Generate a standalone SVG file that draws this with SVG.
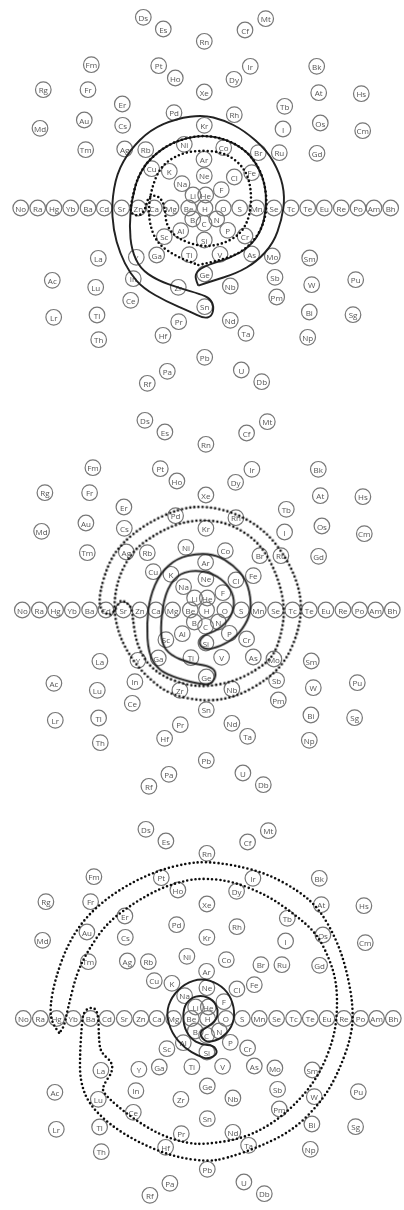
<svg xmlns="http://www.w3.org/2000/svg" width="404" height="1210" viewBox="0 0 404 1210">
<defs><filter id="soft" x="-2%" y="-2%" width="104%" height="104%"><feGaussianBlur stdDeviation="0.35"/></filter></defs>
<style>
.n{filter:url(#soft)}
.n circle{fill:none;stroke:#777;stroke-width:1.2}
.n text{font-family:"Open Sans","Liberation Sans",sans-serif;font-size:8px;fill:#555;text-anchor:middle;dominant-baseline:central}
#connectors{filter:url(#soft)}
.s,.d{fill:none}
.s{stroke:#222;stroke-width:5.8;stroke-linejoin:round}
.d{stroke:#111;stroke-width:7.8;stroke-linecap:round;stroke-dasharray:0 12.6}
</style>
<rect width="404" height="1210" fill="#fff"/>
<g id="panel-1" class="n">
<g id="a-Ds" transform="translate(143.3,17.3)"><circle r="7.8"/><text>Ds</text></g>
<g id="a-Es" transform="translate(163.3,29)"><circle r="7.8"/><text>Es</text></g>
<g id="a-Rn" transform="translate(204.3,41.3)"><circle r="7.8"/><text>Rn</text></g>
<g id="a-Cf" transform="translate(245,30)"><circle r="7.8"/><text>Cf</text></g>
<g id="a-Mt" transform="translate(265.7,18.7)"><circle r="7.8"/><text>Mt</text></g>
<g id="a-Fm" transform="translate(91.3,64.7)"><circle r="7.8"/><text>Fm</text></g>
<g id="a-Pt" transform="translate(158.7,65.7)"><circle r="7.8"/><text>Pt</text></g>
<g id="a-Ho" transform="translate(175.3,78)"><circle r="7.8"/><text>Ho</text></g>
<g id="a-Dy" transform="translate(234,79.3)"><circle r="7.8"/><text>Dy</text></g>
<g id="a-Ir" transform="translate(250.3,66.3)"><circle r="7.8"/><text>Ir</text></g>
<g id="a-Bk" transform="translate(316.7,66.3)"><circle r="7.8"/><text>Bk</text></g>
<g id="a-Rg" transform="translate(43.3,89.7)"><circle r="7.8"/><text>Rg</text></g>
<g id="a-Fr" transform="translate(88,89.7)"><circle r="7.8"/><text>Fr</text></g>
<g id="a-Xe" transform="translate(204.3,92)"><circle r="7.8"/><text>Xe</text></g>
<g id="a-At" transform="translate(318.7,92.7)"><circle r="7.8"/><text>At</text></g>
<g id="a-Hs" transform="translate(361.3,93.7)"><circle r="7.8"/><text>Hs</text></g>
<g id="a-Er" transform="translate(122.3,104)"><circle r="7.8"/><text>Er</text></g>
<g id="a-Pd" transform="translate(174,112.7)"><circle r="7.8"/><text>Pd</text></g>
<g id="a-Rh" transform="translate(234.3,114.7)"><circle r="7.8"/><text>Rh</text></g>
<g id="a-Tb" transform="translate(284.7,106.3)"><circle r="7.8"/><text>Tb</text></g>
<g id="a-Au" transform="translate(84.3,120)"><circle r="7.8"/><text>Au</text></g>
<g id="a-Os" transform="translate(320.3,123)"><circle r="7.8"/><text>Os</text></g>
<g id="a-Md" transform="translate(40,128.3)"><circle r="7.8"/><text>Md</text></g>
<g id="a-Cs" transform="translate(122.7,125.3)"><circle r="7.8"/><text>Cs</text></g>
<g id="a-Kr" transform="translate(204.3,125.3)"><circle r="7.8"/><text>Kr</text></g>
<g id="a-I" transform="translate(283,129)"><circle r="7.8"/><text>I</text></g>
<g id="a-Cm" transform="translate(362.7,130.7)"><circle r="7.8"/><text>Cm</text></g>
<g id="a-Tm" transform="translate(85.7,149.7)"><circle r="7.8"/><text>Tm</text></g>
<g id="a-Ag" transform="translate(124.7,149)"><circle r="7.8"/><text>Ag</text></g>
<g id="a-Rb" transform="translate(145.7,149.7)"><circle r="7.8"/><text>Rb</text></g>
<g id="a-Ni" transform="translate(184.3,144.3)"><circle r="7.8"/><text>Ni</text></g>
<g id="a-Co" transform="translate(223.7,147.7)"><circle r="7.8"/><text>Co</text></g>
<g id="a-Br" transform="translate(258.3,152.7)"><circle r="7.8"/><text>Br</text></g>
<g id="a-Ru" transform="translate(279.3,152.7)"><circle r="7.8"/><text>Ru</text></g>
<g id="a-Gd" transform="translate(317,153.3)"><circle r="7.8"/><text>Gd</text></g>
<g id="a-Ar" transform="translate(204,159.3)"><circle r="7.8"/><text>Ar</text></g>
<g id="a-Cu" transform="translate(151.7,168.7)"><circle r="7.8"/><text>Cu</text></g>
<g id="a-K" transform="translate(169.3,171.3)"><circle r="7.8"/><text>K</text></g>
<g id="a-Ne" transform="translate(204.3,175.7)"><circle r="7.8"/><text>Ne</text></g>
<g id="a-Cl" transform="translate(234.3,177)"><circle r="7.8"/><text>Cl</text></g>
<g id="a-Fe" transform="translate(251.7,172.7)"><circle r="7.8"/><text>Fe</text></g>
<g id="a-Na" transform="translate(182,183.7)"><circle r="7.8"/><text>Na</text></g>
<g id="a-F" transform="translate(221.3,189.7)"><circle r="7.8"/><text>F</text></g>
<g id="a-Li" transform="translate(193,195)"><circle r="7.8"/><text>Li</text></g>
<g id="a-He" transform="translate(205.7,195)"><circle r="7.8"/><text>He</text></g>
<g id="a-No" transform="translate(20.7,208)"><circle r="7.8"/><text>No</text></g>
<g id="a-Ra" transform="translate(37.7,208)"><circle r="7.8"/><text>Ra</text></g>
<g id="a-Hg" transform="translate(54,208)"><circle r="7.8"/><text>Hg</text></g>
<g id="a-Yb" transform="translate(70.7,208)"><circle r="7.8"/><text>Yb</text></g>
<g id="a-Ba" transform="translate(88,208)"><circle r="7.8"/><text>Ba</text></g>
<g id="a-Cd" transform="translate(104.3,208)"><circle r="7.8"/><text>Cd</text></g>
<g id="a-Sr" transform="translate(121.7,208)"><circle r="7.8"/><text>Sr</text></g>
<g id="a-Zn" transform="translate(138.3,208)"><circle r="7.8"/><text>Zn</text></g>
<g id="a-Ca" transform="translate(154.3,208)"><circle r="7.8"/><text>Ca</text></g>
<g id="a-Mg" transform="translate(171,208)"><circle r="7.8"/><text>Mg</text></g>
<g id="a-Be" transform="translate(188.7,208)"><circle r="7.8"/><text>Be</text></g>
<g id="a-H" transform="translate(205,208)"><circle r="7.8"/><text>H</text></g>
<g id="a-O" transform="translate(223.3,208)"><circle r="7.8"/><text>O</text></g>
<g id="a-S" transform="translate(239.7,208)"><circle r="7.8"/><text>S</text></g>
<g id="a-Mn" transform="translate(256.7,208)"><circle r="7.8"/><text>Mn</text></g>
<g id="a-Se" transform="translate(274,208)"><circle r="7.8"/><text>Se</text></g>
<g id="a-Tc" transform="translate(291,208)"><circle r="7.8"/><text>Tc</text></g>
<g id="a-Te" transform="translate(307.7,208)"><circle r="7.8"/><text>Te</text></g>
<g id="a-Eu" transform="translate(324.3,208)"><circle r="7.8"/><text>Eu</text></g>
<g id="a-Re" transform="translate(341.3,208)"><circle r="7.8"/><text>Re</text></g>
<g id="a-Po" transform="translate(358,208)"><circle r="7.8"/><text>Po</text></g>
<g id="a-Am" transform="translate(374,208)"><circle r="7.8"/><text>Am</text></g>
<g id="a-Bh" transform="translate(390.7,208)"><circle r="7.8"/><text>Bh</text></g>
<g id="a-B" transform="translate(192.7,219)"><circle r="7.8"/><text>B</text></g>
<g id="a-C" transform="translate(204,223.3)"><circle r="7.8"/><text>C</text></g>
<g id="a-N" transform="translate(216.7,219)"><circle r="7.8"/><text>N</text></g>
<g id="a-Al" transform="translate(180.7,230.7)"><circle r="7.8"/><text>Al</text></g>
<g id="a-P" transform="translate(227.7,230.3)"><circle r="7.8"/><text>P</text></g>
<g id="a-Sc" transform="translate(164.3,236.7)"><circle r="7.8"/><text>Sc</text></g>
<g id="a-Si" transform="translate(204.3,240)"><circle r="7.8"/><text>Si</text></g>
<g id="a-Cr" transform="translate(245,236)"><circle r="7.8"/><text>Cr</text></g>
<g id="a-La" transform="translate(98.3,258.3)"><circle r="7.8"/><text>La</text></g>
<g id="a-Y" transform="translate(136.3,257.3)"><circle r="7.8"/><text>Y</text></g>
<g id="a-Ga" transform="translate(156.7,255)"><circle r="7.8"/><text>Ga</text></g>
<g id="a-Ti" transform="translate(189.3,254.7)"><circle r="7.8"/><text>Ti</text></g>
<g id="a-V" transform="translate(220,254.3)"><circle r="7.8"/><text>V</text></g>
<g id="a-As" transform="translate(251.7,254)"><circle r="7.8"/><text>As</text></g>
<g id="a-Mo" transform="translate(272.3,256)"><circle r="7.8"/><text>Mo</text></g>
<g id="a-Sm" transform="translate(309.7,258)"><circle r="7.8"/><text>Sm</text></g>
<g id="a-Ac" transform="translate(52.3,280.3)"><circle r="7.8"/><text>Ac</text></g>
<g id="a-In" transform="translate(133.3,278.7)"><circle r="7.8"/><text>In</text></g>
<g id="a-Ge" transform="translate(204.7,274)"><circle r="7.8"/><text>Ge</text></g>
<g id="a-Zr" transform="translate(178.3,287.3)"><circle r="7.8"/><text>Zr</text></g>
<g id="a-Nb" transform="translate(230.3,286)"><circle r="7.8"/><text>Nb</text></g>
<g id="a-Sb" transform="translate(275,277.3)"><circle r="7.8"/><text>Sb</text></g>
<g id="a-W" transform="translate(311.7,284.7)"><circle r="7.8"/><text>W</text></g>
<g id="a-Pu" transform="translate(355.7,279.7)"><circle r="7.8"/><text>Pu</text></g>
<g id="a-Lu" transform="translate(95.7,287.3)"><circle r="7.8"/><text>Lu</text></g>
<g id="a-Ce" transform="translate(130.7,300.3)"><circle r="7.8"/><text>Ce</text></g>
<g id="a-Pm" transform="translate(276.7,297)"><circle r="7.8"/><text>Pm</text></g>
<g id="a-Sn" transform="translate(204.7,306.7)"><circle r="7.8"/><text>Sn</text></g>
<g id="a-Lr" transform="translate(53.7,317.3)"><circle r="7.8"/><text>Lr</text></g>
<g id="a-Tl" transform="translate(97,315)"><circle r="7.8"/><text>Tl</text></g>
<g id="a-Pr" transform="translate(178.7,321.7)"><circle r="7.8"/><text>Pr</text></g>
<g id="a-Nd" transform="translate(230.3,320.3)"><circle r="7.8"/><text>Nd</text></g>
<g id="a-Bi" transform="translate(309.3,312)"><circle r="7.8"/><text>Bi</text></g>
<g id="a-Sg" transform="translate(353,314.7)"><circle r="7.8"/><text>Sg</text></g>
<g id="a-Ta" transform="translate(246,333.3)"><circle r="7.8"/><text>Ta</text></g>
<g id="a-Hf" transform="translate(163,335.3)"><circle r="7.8"/><text>Hf</text></g>
<g id="a-Th" transform="translate(98.7,339.7)"><circle r="7.8"/><text>Th</text></g>
<g id="a-Np" transform="translate(307.7,337.3)"><circle r="7.8"/><text>Np</text></g>
<g id="a-Pb" transform="translate(204.7,357.3)"><circle r="7.8"/><text>Pb</text></g>
<g id="a-Pa" transform="translate(167.3,371.3)"><circle r="7.8"/><text>Pa</text></g>
<g id="a-U" transform="translate(241.3,370)"><circle r="7.8"/><text>U</text></g>
<g id="a-Rf" transform="translate(147.3,383.3)"><circle r="7.8"/><text>Rf</text></g>
<g id="a-Db" transform="translate(261.7,381.7)"><circle r="7.8"/><text>Db</text></g>
</g>
<g id="panel-2" class="n" transform="translate(1.6,403)">
<g id="b-Ds" transform="translate(143.3,17.3)"><circle r="7.8"/><text>Ds</text></g>
<g id="b-Es" transform="translate(163.3,29)"><circle r="7.8"/><text>Es</text></g>
<g id="b-Rn" transform="translate(204.3,41.3)"><circle r="7.8"/><text>Rn</text></g>
<g id="b-Cf" transform="translate(245,30)"><circle r="7.8"/><text>Cf</text></g>
<g id="b-Mt" transform="translate(265.7,18.7)"><circle r="7.8"/><text>Mt</text></g>
<g id="b-Fm" transform="translate(91.3,64.7)"><circle r="7.8"/><text>Fm</text></g>
<g id="b-Pt" transform="translate(158.7,65.7)"><circle r="7.8"/><text>Pt</text></g>
<g id="b-Ho" transform="translate(175.3,78)"><circle r="7.8"/><text>Ho</text></g>
<g id="b-Dy" transform="translate(234,79.3)"><circle r="7.8"/><text>Dy</text></g>
<g id="b-Ir" transform="translate(250.3,66.3)"><circle r="7.8"/><text>Ir</text></g>
<g id="b-Bk" transform="translate(316.7,66.3)"><circle r="7.8"/><text>Bk</text></g>
<g id="b-Rg" transform="translate(43.3,89.7)"><circle r="7.8"/><text>Rg</text></g>
<g id="b-Fr" transform="translate(88,89.7)"><circle r="7.8"/><text>Fr</text></g>
<g id="b-Xe" transform="translate(204.3,92)"><circle r="7.8"/><text>Xe</text></g>
<g id="b-At" transform="translate(318.7,92.7)"><circle r="7.8"/><text>At</text></g>
<g id="b-Hs" transform="translate(361.3,93.7)"><circle r="7.8"/><text>Hs</text></g>
<g id="b-Er" transform="translate(122.3,104)"><circle r="7.8"/><text>Er</text></g>
<g id="b-Pd" transform="translate(174,112.7)"><circle r="7.8"/><text>Pd</text></g>
<g id="b-Rh" transform="translate(234.3,114.7)"><circle r="7.8"/><text>Rh</text></g>
<g id="b-Tb" transform="translate(284.7,106.3)"><circle r="7.8"/><text>Tb</text></g>
<g id="b-Au" transform="translate(84.3,120)"><circle r="7.8"/><text>Au</text></g>
<g id="b-Os" transform="translate(320.3,123)"><circle r="7.8"/><text>Os</text></g>
<g id="b-Md" transform="translate(40,128.3)"><circle r="7.8"/><text>Md</text></g>
<g id="b-Cs" transform="translate(122.7,125.3)"><circle r="7.8"/><text>Cs</text></g>
<g id="b-Kr" transform="translate(204.3,125.3)"><circle r="7.8"/><text>Kr</text></g>
<g id="b-I" transform="translate(283,129)"><circle r="7.8"/><text>I</text></g>
<g id="b-Cm" transform="translate(362.7,130.7)"><circle r="7.8"/><text>Cm</text></g>
<g id="b-Tm" transform="translate(85.7,149.7)"><circle r="7.8"/><text>Tm</text></g>
<g id="b-Ag" transform="translate(124.7,149)"><circle r="7.8"/><text>Ag</text></g>
<g id="b-Rb" transform="translate(145.7,149.7)"><circle r="7.8"/><text>Rb</text></g>
<g id="b-Ni" transform="translate(184.3,144.3)"><circle r="7.8"/><text>Ni</text></g>
<g id="b-Co" transform="translate(223.7,147.7)"><circle r="7.8"/><text>Co</text></g>
<g id="b-Br" transform="translate(258.3,152.7)"><circle r="7.8"/><text>Br</text></g>
<g id="b-Ru" transform="translate(279.3,152.7)"><circle r="7.8"/><text>Ru</text></g>
<g id="b-Gd" transform="translate(317,153.3)"><circle r="7.8"/><text>Gd</text></g>
<g id="b-Ar" transform="translate(204,159.3)"><circle r="7.8"/><text>Ar</text></g>
<g id="b-Cu" transform="translate(151.7,168.7)"><circle r="7.8"/><text>Cu</text></g>
<g id="b-K" transform="translate(169.3,171.3)"><circle r="7.8"/><text>K</text></g>
<g id="b-Ne" transform="translate(204.3,175.7)"><circle r="7.8"/><text>Ne</text></g>
<g id="b-Cl" transform="translate(234.3,177)"><circle r="7.8"/><text>Cl</text></g>
<g id="b-Fe" transform="translate(251.7,172.7)"><circle r="7.8"/><text>Fe</text></g>
<g id="b-Na" transform="translate(182,183.7)"><circle r="7.8"/><text>Na</text></g>
<g id="b-F" transform="translate(221.3,189.7)"><circle r="7.8"/><text>F</text></g>
<g id="b-Li" transform="translate(193,195)"><circle r="7.8"/><text>Li</text></g>
<g id="b-He" transform="translate(205.7,195)"><circle r="7.8"/><text>He</text></g>
<g id="b-No" transform="translate(20.7,207)"><circle r="7.8"/><text>No</text></g>
<g id="b-Ra" transform="translate(37.7,207)"><circle r="7.8"/><text>Ra</text></g>
<g id="b-Hg" transform="translate(54,207)"><circle r="7.8"/><text>Hg</text></g>
<g id="b-Yb" transform="translate(70.7,207)"><circle r="7.8"/><text>Yb</text></g>
<g id="b-Ba" transform="translate(88,207)"><circle r="7.8"/><text>Ba</text></g>
<g id="b-Cd" transform="translate(104.3,207)"><circle r="7.8"/><text>Cd</text></g>
<g id="b-Sr" transform="translate(121.7,207)"><circle r="7.8"/><text>Sr</text></g>
<g id="b-Zn" transform="translate(138.3,207)"><circle r="7.8"/><text>Zn</text></g>
<g id="b-Ca" transform="translate(154.3,207)"><circle r="7.8"/><text>Ca</text></g>
<g id="b-Mg" transform="translate(171,207)"><circle r="7.8"/><text>Mg</text></g>
<g id="b-Be" transform="translate(188.7,207)"><circle r="7.8"/><text>Be</text></g>
<g id="b-H" transform="translate(205,207)"><circle r="7.8"/><text>H</text></g>
<g id="b-O" transform="translate(223.3,207)"><circle r="7.8"/><text>O</text></g>
<g id="b-S" transform="translate(239.7,207)"><circle r="7.8"/><text>S</text></g>
<g id="b-Mn" transform="translate(256.7,207)"><circle r="7.8"/><text>Mn</text></g>
<g id="b-Se" transform="translate(274,207)"><circle r="7.8"/><text>Se</text></g>
<g id="b-Tc" transform="translate(291,207)"><circle r="7.8"/><text>Tc</text></g>
<g id="b-Te" transform="translate(307.7,207)"><circle r="7.8"/><text>Te</text></g>
<g id="b-Eu" transform="translate(324.3,207)"><circle r="7.8"/><text>Eu</text></g>
<g id="b-Re" transform="translate(341.3,207)"><circle r="7.8"/><text>Re</text></g>
<g id="b-Po" transform="translate(358,207)"><circle r="7.8"/><text>Po</text></g>
<g id="b-Am" transform="translate(374,207)"><circle r="7.8"/><text>Am</text></g>
<g id="b-Bh" transform="translate(390.7,207)"><circle r="7.8"/><text>Bh</text></g>
<g id="b-B" transform="translate(192.7,219)"><circle r="7.8"/><text>B</text></g>
<g id="b-C" transform="translate(204,223.3)"><circle r="7.8"/><text>C</text></g>
<g id="b-N" transform="translate(216.7,219)"><circle r="7.8"/><text>N</text></g>
<g id="b-Al" transform="translate(180.7,230.7)"><circle r="7.8"/><text>Al</text></g>
<g id="b-P" transform="translate(227.7,230.3)"><circle r="7.8"/><text>P</text></g>
<g id="b-Sc" transform="translate(164.3,236.7)"><circle r="7.8"/><text>Sc</text></g>
<g id="b-Si" transform="translate(204.3,240)"><circle r="7.8"/><text>Si</text></g>
<g id="b-Cr" transform="translate(245,236)"><circle r="7.8"/><text>Cr</text></g>
<g id="b-La" transform="translate(98.3,258.3)"><circle r="7.8"/><text>La</text></g>
<g id="b-Y" transform="translate(136.3,257.3)"><circle r="7.8"/><text>Y</text></g>
<g id="b-Ga" transform="translate(156.7,255)"><circle r="7.8"/><text>Ga</text></g>
<g id="b-Ti" transform="translate(189.3,254.7)"><circle r="7.8"/><text>Ti</text></g>
<g id="b-V" transform="translate(220,254.3)"><circle r="7.8"/><text>V</text></g>
<g id="b-As" transform="translate(251.7,254)"><circle r="7.8"/><text>As</text></g>
<g id="b-Mo" transform="translate(272.3,256)"><circle r="7.8"/><text>Mo</text></g>
<g id="b-Sm" transform="translate(309.7,258)"><circle r="7.8"/><text>Sm</text></g>
<g id="b-Ac" transform="translate(52.3,280.3)"><circle r="7.8"/><text>Ac</text></g>
<g id="b-In" transform="translate(133.3,278.7)"><circle r="7.8"/><text>In</text></g>
<g id="b-Ge" transform="translate(204.7,274)"><circle r="7.8"/><text>Ge</text></g>
<g id="b-Zr" transform="translate(178.3,287.3)"><circle r="7.8"/><text>Zr</text></g>
<g id="b-Nb" transform="translate(230.3,286)"><circle r="7.8"/><text>Nb</text></g>
<g id="b-Sb" transform="translate(275,277.3)"><circle r="7.8"/><text>Sb</text></g>
<g id="b-W" transform="translate(311.7,284.7)"><circle r="7.8"/><text>W</text></g>
<g id="b-Pu" transform="translate(355.7,279.7)"><circle r="7.8"/><text>Pu</text></g>
<g id="b-Lu" transform="translate(95.7,287.3)"><circle r="7.8"/><text>Lu</text></g>
<g id="b-Ce" transform="translate(130.7,300.3)"><circle r="7.8"/><text>Ce</text></g>
<g id="b-Pm" transform="translate(276.7,297)"><circle r="7.8"/><text>Pm</text></g>
<g id="b-Sn" transform="translate(204.7,306.7)"><circle r="7.8"/><text>Sn</text></g>
<g id="b-Lr" transform="translate(53.7,317.3)"><circle r="7.8"/><text>Lr</text></g>
<g id="b-Tl" transform="translate(97,315)"><circle r="7.8"/><text>Tl</text></g>
<g id="b-Pr" transform="translate(178.7,321.7)"><circle r="7.8"/><text>Pr</text></g>
<g id="b-Nd" transform="translate(230.3,320.3)"><circle r="7.8"/><text>Nd</text></g>
<g id="b-Bi" transform="translate(309.3,312)"><circle r="7.8"/><text>Bi</text></g>
<g id="b-Sg" transform="translate(353,314.7)"><circle r="7.8"/><text>Sg</text></g>
<g id="b-Ta" transform="translate(246,333.3)"><circle r="7.8"/><text>Ta</text></g>
<g id="b-Hf" transform="translate(163,335.3)"><circle r="7.8"/><text>Hf</text></g>
<g id="b-Th" transform="translate(98.7,339.7)"><circle r="7.8"/><text>Th</text></g>
<g id="b-Np" transform="translate(307.7,337.3)"><circle r="7.8"/><text>Np</text></g>
<g id="b-Pb" transform="translate(204.7,357.3)"><circle r="7.8"/><text>Pb</text></g>
<g id="b-Pa" transform="translate(167.3,371.3)"><circle r="7.8"/><text>Pa</text></g>
<g id="b-U" transform="translate(241.3,370)"><circle r="7.8"/><text>U</text></g>
<g id="b-Rf" transform="translate(147.3,383.3)"><circle r="7.8"/><text>Rf</text></g>
<g id="b-Db" transform="translate(261.7,381.7)"><circle r="7.8"/><text>Db</text></g>
</g>
<g id="panel-3" class="n" transform="translate(2.6,812)">
<g id="c-Ds" transform="translate(143.3,17.3)"><circle r="7.8"/><text>Ds</text></g>
<g id="c-Es" transform="translate(163.3,29)"><circle r="7.8"/><text>Es</text></g>
<g id="c-Rn" transform="translate(204.3,41.3)"><circle r="7.8"/><text>Rn</text></g>
<g id="c-Cf" transform="translate(245,30)"><circle r="7.8"/><text>Cf</text></g>
<g id="c-Mt" transform="translate(265.7,18.7)"><circle r="7.8"/><text>Mt</text></g>
<g id="c-Fm" transform="translate(91.3,64.7)"><circle r="7.8"/><text>Fm</text></g>
<g id="c-Pt" transform="translate(158.7,65.7)"><circle r="7.8"/><text>Pt</text></g>
<g id="c-Ho" transform="translate(175.3,78)"><circle r="7.8"/><text>Ho</text></g>
<g id="c-Dy" transform="translate(234,79.3)"><circle r="7.8"/><text>Dy</text></g>
<g id="c-Ir" transform="translate(250.3,66.3)"><circle r="7.8"/><text>Ir</text></g>
<g id="c-Bk" transform="translate(316.7,66.3)"><circle r="7.8"/><text>Bk</text></g>
<g id="c-Rg" transform="translate(43.3,89.7)"><circle r="7.8"/><text>Rg</text></g>
<g id="c-Fr" transform="translate(88,89.7)"><circle r="7.8"/><text>Fr</text></g>
<g id="c-Xe" transform="translate(204.3,92)"><circle r="7.8"/><text>Xe</text></g>
<g id="c-At" transform="translate(318.7,92.7)"><circle r="7.8"/><text>At</text></g>
<g id="c-Hs" transform="translate(361.3,93.7)"><circle r="7.8"/><text>Hs</text></g>
<g id="c-Er" transform="translate(122.3,104)"><circle r="7.8"/><text>Er</text></g>
<g id="c-Pd" transform="translate(174,112.7)"><circle r="7.8"/><text>Pd</text></g>
<g id="c-Rh" transform="translate(234.3,114.7)"><circle r="7.8"/><text>Rh</text></g>
<g id="c-Tb" transform="translate(284.7,106.3)"><circle r="7.8"/><text>Tb</text></g>
<g id="c-Au" transform="translate(84.3,120)"><circle r="7.8"/><text>Au</text></g>
<g id="c-Os" transform="translate(320.3,123)"><circle r="7.8"/><text>Os</text></g>
<g id="c-Md" transform="translate(40,128.3)"><circle r="7.8"/><text>Md</text></g>
<g id="c-Cs" transform="translate(122.7,125.3)"><circle r="7.8"/><text>Cs</text></g>
<g id="c-Kr" transform="translate(204.3,125.3)"><circle r="7.8"/><text>Kr</text></g>
<g id="c-I" transform="translate(283,129)"><circle r="7.8"/><text>I</text></g>
<g id="c-Cm" transform="translate(362.7,130.7)"><circle r="7.8"/><text>Cm</text></g>
<g id="c-Tm" transform="translate(85.7,149.7)"><circle r="7.8"/><text>Tm</text></g>
<g id="c-Ag" transform="translate(124.7,149)"><circle r="7.8"/><text>Ag</text></g>
<g id="c-Rb" transform="translate(145.7,149.7)"><circle r="7.8"/><text>Rb</text></g>
<g id="c-Ni" transform="translate(184.3,144.3)"><circle r="7.8"/><text>Ni</text></g>
<g id="c-Co" transform="translate(223.7,147.7)"><circle r="7.8"/><text>Co</text></g>
<g id="c-Br" transform="translate(258.3,152.7)"><circle r="7.8"/><text>Br</text></g>
<g id="c-Ru" transform="translate(279.3,152.7)"><circle r="7.8"/><text>Ru</text></g>
<g id="c-Gd" transform="translate(317,153.3)"><circle r="7.8"/><text>Gd</text></g>
<g id="c-Ar" transform="translate(204,159.3)"><circle r="7.8"/><text>Ar</text></g>
<g id="c-Cu" transform="translate(151.7,168.7)"><circle r="7.8"/><text>Cu</text></g>
<g id="c-K" transform="translate(169.3,171.3)"><circle r="7.8"/><text>K</text></g>
<g id="c-Ne" transform="translate(204.3,175.7)"><circle r="7.8"/><text>Ne</text></g>
<g id="c-Cl" transform="translate(234.3,177)"><circle r="7.8"/><text>Cl</text></g>
<g id="c-Fe" transform="translate(251.7,172.7)"><circle r="7.8"/><text>Fe</text></g>
<g id="c-Na" transform="translate(182,183.7)"><circle r="7.8"/><text>Na</text></g>
<g id="c-F" transform="translate(221.3,189.7)"><circle r="7.8"/><text>F</text></g>
<g id="c-Li" transform="translate(193,195)"><circle r="7.8"/><text>Li</text></g>
<g id="c-He" transform="translate(205.7,195)"><circle r="7.8"/><text>He</text></g>
<g id="c-No" transform="translate(20.7,206.5)"><circle r="7.8"/><text>No</text></g>
<g id="c-Ra" transform="translate(37.7,206.5)"><circle r="7.8"/><text>Ra</text></g>
<g id="c-Hg" transform="translate(54,206.5)"><circle r="7.8"/><text>Hg</text></g>
<g id="c-Yb" transform="translate(70.7,206.5)"><circle r="7.8"/><text>Yb</text></g>
<g id="c-Ba" transform="translate(88,206.5)"><circle r="7.8"/><text>Ba</text></g>
<g id="c-Cd" transform="translate(104.3,206.5)"><circle r="7.8"/><text>Cd</text></g>
<g id="c-Sr" transform="translate(121.7,206.5)"><circle r="7.8"/><text>Sr</text></g>
<g id="c-Zn" transform="translate(138.3,206.5)"><circle r="7.8"/><text>Zn</text></g>
<g id="c-Ca" transform="translate(154.3,206.5)"><circle r="7.8"/><text>Ca</text></g>
<g id="c-Mg" transform="translate(171,206.5)"><circle r="7.8"/><text>Mg</text></g>
<g id="c-Be" transform="translate(188.7,206.5)"><circle r="7.8"/><text>Be</text></g>
<g id="c-H" transform="translate(205,206.5)"><circle r="7.8"/><text>H</text></g>
<g id="c-O" transform="translate(223.3,206.5)"><circle r="7.8"/><text>O</text></g>
<g id="c-S" transform="translate(239.7,206.5)"><circle r="7.8"/><text>S</text></g>
<g id="c-Mn" transform="translate(256.7,206.5)"><circle r="7.8"/><text>Mn</text></g>
<g id="c-Se" transform="translate(274,206.5)"><circle r="7.8"/><text>Se</text></g>
<g id="c-Tc" transform="translate(291,206.5)"><circle r="7.8"/><text>Tc</text></g>
<g id="c-Te" transform="translate(307.7,206.5)"><circle r="7.8"/><text>Te</text></g>
<g id="c-Eu" transform="translate(324.3,206.5)"><circle r="7.8"/><text>Eu</text></g>
<g id="c-Re" transform="translate(341.3,206.5)"><circle r="7.8"/><text>Re</text></g>
<g id="c-Po" transform="translate(358,206.5)"><circle r="7.8"/><text>Po</text></g>
<g id="c-Am" transform="translate(374,206.5)"><circle r="7.8"/><text>Am</text></g>
<g id="c-Bh" transform="translate(390.7,206.5)"><circle r="7.8"/><text>Bh</text></g>
<g id="c-B" transform="translate(192.7,219)"><circle r="7.8"/><text>B</text></g>
<g id="c-C" transform="translate(204,223.3)"><circle r="7.8"/><text>C</text></g>
<g id="c-N" transform="translate(216.7,219)"><circle r="7.8"/><text>N</text></g>
<g id="c-Al" transform="translate(180.7,230.7)"><circle r="7.8"/><text>Al</text></g>
<g id="c-P" transform="translate(227.7,230.3)"><circle r="7.8"/><text>P</text></g>
<g id="c-Sc" transform="translate(164.3,236.7)"><circle r="7.8"/><text>Sc</text></g>
<g id="c-Si" transform="translate(204.3,240)"><circle r="7.8"/><text>Si</text></g>
<g id="c-Cr" transform="translate(245,236)"><circle r="7.8"/><text>Cr</text></g>
<g id="c-La" transform="translate(98.3,258.3)"><circle r="7.8"/><text>La</text></g>
<g id="c-Y" transform="translate(136.3,257.3)"><circle r="7.8"/><text>Y</text></g>
<g id="c-Ga" transform="translate(156.7,255)"><circle r="7.8"/><text>Ga</text></g>
<g id="c-Ti" transform="translate(189.3,254.7)"><circle r="7.8"/><text>Ti</text></g>
<g id="c-V" transform="translate(220,254.3)"><circle r="7.8"/><text>V</text></g>
<g id="c-As" transform="translate(251.7,254)"><circle r="7.8"/><text>As</text></g>
<g id="c-Mo" transform="translate(272.3,256)"><circle r="7.8"/><text>Mo</text></g>
<g id="c-Sm" transform="translate(309.7,258)"><circle r="7.8"/><text>Sm</text></g>
<g id="c-Ac" transform="translate(52.3,280.3)"><circle r="7.8"/><text>Ac</text></g>
<g id="c-In" transform="translate(133.3,278.7)"><circle r="7.8"/><text>In</text></g>
<g id="c-Ge" transform="translate(204.7,274)"><circle r="7.8"/><text>Ge</text></g>
<g id="c-Zr" transform="translate(178.3,287.3)"><circle r="7.8"/><text>Zr</text></g>
<g id="c-Nb" transform="translate(230.3,286)"><circle r="7.8"/><text>Nb</text></g>
<g id="c-Sb" transform="translate(275,277.3)"><circle r="7.8"/><text>Sb</text></g>
<g id="c-W" transform="translate(311.7,284.7)"><circle r="7.8"/><text>W</text></g>
<g id="c-Pu" transform="translate(355.7,279.7)"><circle r="7.8"/><text>Pu</text></g>
<g id="c-Lu" transform="translate(95.7,287.3)"><circle r="7.8"/><text>Lu</text></g>
<g id="c-Ce" transform="translate(130.7,300.3)"><circle r="7.8"/><text>Ce</text></g>
<g id="c-Pm" transform="translate(276.7,297)"><circle r="7.8"/><text>Pm</text></g>
<g id="c-Sn" transform="translate(204.7,306.7)"><circle r="7.8"/><text>Sn</text></g>
<g id="c-Lr" transform="translate(53.7,317.3)"><circle r="7.8"/><text>Lr</text></g>
<g id="c-Tl" transform="translate(97,315)"><circle r="7.8"/><text>Tl</text></g>
<g id="c-Pr" transform="translate(178.7,321.7)"><circle r="7.8"/><text>Pr</text></g>
<g id="c-Nd" transform="translate(230.3,320.3)"><circle r="7.8"/><text>Nd</text></g>
<g id="c-Bi" transform="translate(309.3,312)"><circle r="7.8"/><text>Bi</text></g>
<g id="c-Sg" transform="translate(353,314.7)"><circle r="7.8"/><text>Sg</text></g>
<g id="c-Ta" transform="translate(246,333.3)"><circle r="7.8"/><text>Ta</text></g>
<g id="c-Hf" transform="translate(163,335.3)"><circle r="7.8"/><text>Hf</text></g>
<g id="c-Th" transform="translate(98.7,339.7)"><circle r="7.8"/><text>Th</text></g>
<g id="c-Np" transform="translate(307.7,337.3)"><circle r="7.8"/><text>Np</text></g>
<g id="c-Pb" transform="translate(204.7,357.3)"><circle r="7.8"/><text>Pb</text></g>
<g id="c-Pa" transform="translate(167.3,371.3)"><circle r="7.8"/><text>Pa</text></g>
<g id="c-U" transform="translate(241.3,370)"><circle r="7.8"/><text>U</text></g>
<g id="c-Rf" transform="translate(147.3,383.3)"><circle r="7.8"/><text>Rf</text></g>
<g id="c-Db" transform="translate(261.7,381.7)"><circle r="7.8"/><text>Db</text></g>
</g>
<g id="connectors">
<g transform="translate(110,110) scale(.3333)">
<path class="s" d="M265 527Q300 515 340 502.5Q380 490 410 472.5Q440 455 465 427.5Q490 400 502.5 365Q515 330 520 295Q525 260 517.5 225Q510 190 490 155Q470 120 435 90Q400 60 370 45Q340 30 310 22.5Q280 15 240 20Q200 25 160 42.5Q120 60 90 90Q60 120 40 155Q20 190 12.5 235Q5 280 7.5 320Q10 360 20 395Q30 430 45 460Q60 490 80 512.5Q100 535 135 555Q170 575 205 590Q240 605 260 615Q280 625 292.5 622.5Q305 620 308.5 605Q312 590 306 577.5Q300 565 285 558.5Q270 552 240 543.5Q210 535 175 522.5Q140 510 115 492.5Q90 475 77.5 447.5Q65 420 61.5 385Q58 350 61.5 310Q65 270 75 232.5Q85 195 105 167.5Q125 140 157.5 117.5Q190 95 230 85Q270 75 305 80Q340 85 370 100Q400 115 420 137.5Q440 160 452.5 190Q465 220 467.5 255Q470 290 462.5 325Q455 360 437.5 385Q420 410 390 427.5Q360 445 325 455Q290 465 275 475Q260 485 257.5 495Q255 505 265 527"/>
<path class="d" d="M265 465Q330 452 365 438.5Q400 425 425 397.5Q450 370 461 335Q472 300 468.5 260Q465 220 452.5 190Q440 160 420 137.5Q400 115 370 100Q340 85 305 80Q270 75 230 85Q190 95 157.5 117.5Q125 140 105 167.5Q85 195 75 232.5Q65 270 62.5 291Q60 312 75 315Q90 318 97.5 309Q105 300 109 282.5Q113 265 121.5 260Q130 255 140 258.5Q150 262 157.5 276Q165 290 166.5 317.5Q168 345 184 365Q200 385 235 397.5Q270 410 300 407.5Q330 405 360 390Q390 375 405 347.5Q420 320 422.5 280Q425 240 415 207.5Q405 175 377.5 152.5Q350 130 315 125Q280 120 245 125Q210 130 180 150Q150 170 135 210Q120 250 117.5 290Q115 330 127.5 365Q140 400 170 420Q200 440 232.5 452.5Q265 465 265 465"/>
</g>
<g transform="translate(90,500) scale(.3333)">
<path class="s" d="M335 440Q345 450 367.5 445Q390 440 415 425Q440 410 457.5 385Q475 360 480 335Q485 310 477.5 275Q470 240 450 217.5Q430 195 405 180Q380 165 352.5 162.5Q325 160 292.5 167.5Q260 175 235 197.5Q210 220 195 255Q180 290 175 330Q170 370 172.5 415Q175 460 190 485Q205 510 232.5 522.5Q260 535 300 545Q340 555 355 551.5Q370 548 375 531.5Q380 515 367.5 506Q355 497 327.5 493.5Q300 490 270 477.5Q240 465 227.5 447.5Q215 430 213.5 400Q212 370 218.5 325Q225 280 242.5 252.5Q260 225 285 217.5Q310 210 340 215Q370 220 392.5 237.5Q415 255 425 277.5Q435 300 430 325Q425 350 405 370Q385 390 362.5 397.5Q340 405 332.5 417.5Q325 430 335 440Z"/>
<path class="d" d="M112.5 311Q125 320 127.5 345Q130 370 135 400Q140 430 155 460Q170 490 195 510Q220 530 255 542.5Q290 555 320 557.5Q350 560 390 552.5Q430 545 465 527.5Q500 510 525 490Q550 470 562.5 435Q575 400 580 360Q585 320 572.5 270Q560 220 535 175Q510 130 470 102.5Q430 75 390 66.5Q350 58 310 63Q270 68 235 84Q200 100 165 125Q130 150 107.5 190Q85 230 77.5 275Q70 320 77.5 360Q85 400 102.5 435Q120 470 145 500Q170 530 205 557.5Q240 585 295 595Q350 605 395 597.5Q440 590 485 565Q530 540 560 510Q590 480 610 430Q630 380 632.5 335Q635 290 617.5 240Q600 190 565 142.5Q530 95 485 67.5Q440 40 395 29Q350 18 310 21.5Q270 25 220 47.5Q170 70 132.5 100Q95 130 75 160Q55 190 41.5 235Q28 280 29 305Q30 330 45 339Q60 348 67.5 339Q75 330 82.5 316Q90 302 95 302Q100 302 112.5 311Z"/>
</g>
<g transform="translate(155,970) scale(.3333)">
<path class="s" d="M182.5 237.5Q190 250 175 259Q160 268 145 263Q130 258 110 246.5Q90 235 70 212.5Q50 190 41.5 160Q33 130 41.5 105Q50 80 70 60Q90 40 115 32.5Q140 25 165 32.5Q190 40 207.5 57.5Q225 75 232.5 100Q240 125 236 147.5Q232 170 216 187.5Q200 205 180 211.5Q160 218 150 211.5Q140 205 137.5 195Q135 185 145 178.5Q155 172 170 161Q185 150 187.5 135Q190 120 182.5 105Q175 90 157.5 82.5Q140 75 122.5 80Q105 85 95 100Q85 115 85 140Q85 165 95 185Q105 205 122.5 215Q140 225 157.5 225Q175 225 182.5 237.5Z"/>
</g>
<g transform="translate(0,810) scale(.3333)">
<path class="d" d="M177 668Q155 640 152.5 615Q150 590 157.5 550Q165 510 182.5 460Q200 410 225 370Q250 330 285 297.5Q320 265 360 240Q400 215 440 197.5Q480 180 520 170Q560 160 590 157.5Q620 155 660 160Q700 165 750 177.5Q800 190 850 217.5Q900 245 930 272.5Q960 300 985 345Q1010 390 1025 435Q1040 480 1050 535Q1060 590 1057.5 635Q1055 680 1032.5 740Q1010 800 985 840Q960 880 920 920Q880 960 830 985Q780 1010 730 1027.5Q680 1045 650 1050Q620 1055 570 1047.5Q520 1040 470 1020Q420 1000 375 972.5Q330 945 297.5 912.5Q265 880 252.5 845Q240 810 240 770Q240 730 242.5 690Q245 650 247.5 627.5Q250 605 262.5 597.5Q275 590 285 597.5Q295 605 296 652.5Q297 700 301 715Q305 730 320 742.5Q335 755 336.5 770Q338 785 324 805Q310 825 309 837.5Q308 850 349 885Q390 920 435 947.5Q480 975 520 987.5Q560 1000 590 1001.5Q620 1003 675 994Q730 985 775 962.5Q820 940 860 905Q900 870 930 830Q960 790 980 740Q1000 690 1006 650Q1012 610 1011 565Q1010 520 1000 485Q990 450 970 410Q950 370 915 340Q880 310 840 282.5Q800 255 750 235Q700 215 660 210Q620 205 590 207.5Q560 210 520 222.5Q480 235 440 257.5Q400 280 360 310Q320 340 292.5 380Q265 420 247.5 455Q230 490 217.5 540Q205 590 197.5 625Q190 660 177 668"/>
</g>
</g>
</svg>
